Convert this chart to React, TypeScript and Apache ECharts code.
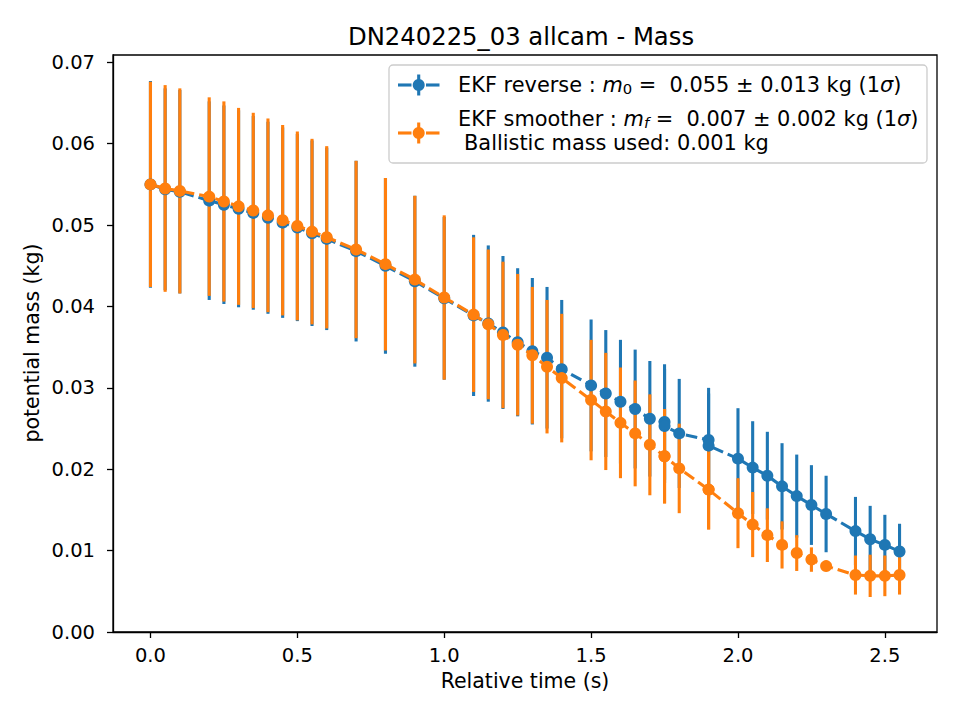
import React, { useEffect, useRef } from 'react';
import * as echarts from 'echarts';

// Relative time of each estimate (s)
const times = [
  0, 0.05, 0.1, 0.2, 0.25, 0.3, 0.35, 0.4, 0.45, 0.5, 0.55, 0.6, 0.7, 0.8, 0.9,
  1.0, 1.1, 1.15, 1.2, 1.25, 1.3, 1.35, 1.4, 1.5, 1.55, 1.6, 1.65, 1.7, 1.75, 1.75,
  1.8, 1.9, 1.9, 2.0, 2.05, 2.1, 2.15, 2.2, 2.25, 2.3, 2.4, 2.45, 2.5, 2.55,
];

// EKF reverse pass: mass and 1-sigma (kg)
const reverseMass = [
  0.055, 0.0544, 0.0541, 0.053, 0.0525, 0.052, 0.0515, 0.0509, 0.0503, 0.0497, 0.049, 0.0483, 0.0468, 0.045, 0.0431,
  0.041, 0.0389, 0.0379, 0.0368, 0.0356, 0.0345, 0.0337, 0.0323, 0.0303, 0.0293, 0.0283, 0.0274, 0.0262, 0.0258, 0.0253,
  0.0244, 0.0236, 0.0229, 0.0213, 0.0202, 0.0192, 0.0179, 0.0167, 0.0156, 0.0145, 0.0124, 0.0114, 0.0107, 0.0099,
];
const reverseSigma = [
  0.0127, 0.0124, 0.0125, 0.0122, 0.0122, 0.0121, 0.0119, 0.0118, 0.0117, 0.0115, 0.0114, 0.0112, 0.0111, 0.0108, 0.0105,
  0.01, 0.0099, 0.0096, 0.0094, 0.0091, 0.009, 0.0087, 0.0085, 0.0081, 0.0078, 0.0076, 0.0073, 0.0071, 0.0071, 0.007,
  0.0067, 0.0064, 0.0064, 0.0062, 0.0057, 0.0054, 0.0053, 0.0051, 0.0049, 0.0047, 0.0042, 0.0041, 0.0037, 0.0034,
];

// EKF smoother: mass and 1-sigma (kg)
const smootherMass = [
  0.055, 0.0545, 0.0542, 0.0535, 0.0529, 0.0523, 0.0518, 0.0512, 0.0506, 0.0499, 0.0492, 0.0485, 0.047, 0.0452, 0.0433,
  0.0411, 0.039, 0.0378, 0.0365, 0.0353, 0.034, 0.0326, 0.0312, 0.0285, 0.0271, 0.0257, 0.0244, 0.023, 0.0216, 0.0216,
  0.0201, 0.0175, 0.0175, 0.0146, 0.0132, 0.0119, 0.0107, 0.0097, 0.0089, 0.0081, 0.007, 0.0069, 0.0069, 0.007,
];
const smootherSigma = [
  0.0126, 0.0127, 0.0126, 0.0122, 0.0123, 0.0121, 0.012, 0.0119, 0.0117, 0.0116, 0.0114, 0.0112, 0.0109, 0.0106, 0.0103,
  0.0101, 0.0095, 0.0092, 0.009, 0.0087, 0.0084, 0.0082, 0.0079, 0.0074, 0.0072, 0.0068, 0.0065, 0.0062, 0.0058, 0.0058,
  0.0055, 0.0049, 0.0049, 0.0043, 0.004, 0.0033, 0.0029, 0.0022, 0.0015, 0.0003, 0.0024, 0.0026, 0.0025, 0.0024,
];

const xTicks = [0, 0.5, 1.0, 1.5, 2.0, 2.5];
const yTicks = [0, 0.01, 0.02, 0.03, 0.04, 0.05, 0.06, 0.07];

const titleText = 'DN240225_03 allcam - Mass';
const xLabel = 'Relative time (s)';
const yLabel = 'potential mass (kg)';
const ballisticNote = 'Ballistic mass used: 0.001 kg';

const BLUE = '#1f77b4';
const ORANGE = '#ff7f0e';
const FONT = 'DejaVu Sans';

function errorBarSeries(name: string, mass: number[], sigma: number[], color: string, z: number) {
  return {
    type: 'custom',
    name,
    z,
    silent: true,
    clip: false,
    data: times.map((t, i) => [t, mass[i] - sigma[i], mass[i] + sigma[i]]),
    encode: { x: 0, y: [1, 2] },
    renderItem: (_params: any, api: any) => {
      const lo = api.coord([api.value(0), api.value(1)]);
      const hi = api.coord([api.value(0), api.value(2)]);
      return {
        type: 'line',
        shape: { x1: lo[0], y1: lo[1], x2: hi[0], y2: hi[1] },
        style: { stroke: color, lineWidth: 3.1 },
      };
    },
  };
}

function lineSeries(name: string, mass: number[], color: string, z: number) {
  return {
    type: 'line',
    name,
    z,
    silent: true,
    data: times.map((t, i) => [t, mass[i]]),
    symbol: 'circle',
    symbolSize: 12,
    showSymbol: true,
    itemStyle: { color, borderWidth: 0 },
    lineStyle: { color, width: 3.1, type: [11.6, 5] },
    emphasis: { disabled: true },
  };
}

function legendHandle(cy: number, color: string) {
  return [
    { type: 'line', shape: { x1: 398, y1: cy, x2: 411.5, y2: cy }, style: { stroke: color, lineWidth: 3.1 } },
    { type: 'line', shape: { x1: 426, y1: cy, x2: 439.5, y2: cy }, style: { stroke: color, lineWidth: 3.1 } },
    { type: 'line', shape: { x1: 418.7, y1: cy - 10.5, x2: 418.7, y2: cy + 10.5 }, style: { stroke: color, lineWidth: 3.1 } },
    { type: 'circle', shape: { cx: 418.7, cy, r: 6 }, style: { fill: color } },
  ];
}

const LEGEND_FS = 20.9;
const richStyles = {
  n: { fontFamily: FONT, fontSize: LEGEND_FS, lineHeight: 22, color: '#000' },
  i: { fontFamily: FONT, fontSize: LEGEND_FS, fontStyle: 'italic', lineHeight: 22, color: '#000' },
  s: { fontFamily: FONT, fontSize: 14.8, lineHeight: 11, verticalAlign: 'bottom', color: '#000' },
  si: { fontFamily: FONT, fontSize: 14.8, fontStyle: 'italic', lineHeight: 11, verticalAlign: 'bottom', color: '#000' },
};

const axisLineStyle = { show: true, onZero: false, lineStyle: { color: '#000', width: 1.3 } };
const axisTickStyle = { show: true, length: 6, lineStyle: { color: '#000', width: 1.3 } };

export default function App() {
  const ref = useRef<HTMLDivElement>(null);

  useEffect(() => {
    if (!ref.current) return;
    const chart = echarts.init(ref.current, null, { renderer: 'svg' });

    const option: any = {
      animation: false,
      backgroundColor: '#ffffff',
      grid: {
        left: 113,
        right: 23,
        top: 55,
        bottom: 88,
        show: true,
        borderColor: '#000',
        borderWidth: 1.3,
        backgroundColor: 'transparent',
        outerBoundsMode: 'none',
      },
      xAxis: {
        type: 'value',
        min: -0.1275,
        max: 2.6775,
        splitLine: { show: false },
        axisLine: axisLineStyle,
        axisTick: { ...axisTickStyle, customValues: xTicks },
        axisLabel: {
          customValues: xTicks,
          formatter: (v: number) => v.toFixed(1),
          margin: 23.4,
          verticalAlign: 'middle',
          fontSize: 19.5,
          fontFamily: FONT,
          color: '#000',
        },
      },
      yAxis: {
        type: 'value',
        min: 0,
        max: 0.0709,
        splitLine: { show: false },
        axisLine: axisLineStyle,
        axisTick: { ...axisTickStyle, customValues: yTicks },
        axisLabel: {
          customValues: yTicks,
          formatter: (v: number) => v.toFixed(2),
          margin: 18,
          fontSize: 19.5,
          fontFamily: FONT,
          color: '#000',
        },
      },
      series: [
        errorBarSeries('reverse-err', reverseMass, reverseSigma, BLUE, 2),
        errorBarSeries('smoother-err', smootherMass, smootherSigma, ORANGE, 3),
        lineSeries('EKF reverse', reverseMass, BLUE, 4),
        lineSeries('EKF smoother', smootherMass, ORANGE, 5),
      ],
      graphic: [
        {
          type: 'text',
          x: 521,
          y: 36,
          style: { text: titleText, fontFamily: FONT, fontSize: 24.3, fill: '#000', textAlign: 'center', textVerticalAlign: 'middle' },
        },
        {
          type: 'text',
          x: 525,
          y: 680.5,
          style: { text: xLabel, fontFamily: FONT, fontSize: 20.5, fill: '#000', textAlign: 'center', textVerticalAlign: 'middle' },
        },
        {
          type: 'text',
          x: 32,
          y: 343,
          rotation: Math.PI / 2,
          style: { text: yLabel, fontFamily: FONT, fontSize: 20.5, fill: '#000', textAlign: 'center', textVerticalAlign: 'middle' },
        },
        {
          type: 'group',
          z: 100,
          children: [
            {
              type: 'rect',
              shape: { x: 389, y: 65, width: 538, height: 98, r: 4 },
              style: { fill: 'rgba(255,255,255,0.8)', stroke: '#cccccc', lineWidth: 1.3 },
            },
            ...legendHandle(85, BLUE),
            ...legendHandle(133, ORANGE),
            {
              type: 'text',
              x: 458,
              y: 85,
              style: {
                text: '{n|EKF reverse : }{i|m}{s|0}{n| =  0.055 ± 0.013 kg (1}{i|σ}{n|)}',
                rich: richStyles,
                textVerticalAlign: 'middle',
              },
            },
            {
              type: 'text',
              x: 458,
              y: 119,
              style: {
                text: '{n|EKF smoother : }{i|m}{si|f}{n| =  0.007 ± 0.002 kg (1}{i|σ}{n|)}',
                rich: richStyles,
                textVerticalAlign: 'middle',
              },
            },
            {
              type: 'text',
              x: 464,
              y: 142.5,
              style: { text: ballisticNote, fontFamily: FONT, fontSize: LEGEND_FS, fill: '#000', textVerticalAlign: 'middle' },
            },
          ],
        },
      ],
    };

    chart.setOption(option);
    return () => chart.dispose();
  }, []);

  return (
    <div
      ref={ref}
      style={{ position: 'fixed', left: 0, top: 0, width: 960, height: 720, background: '#fff' }}
    />
  );
}
